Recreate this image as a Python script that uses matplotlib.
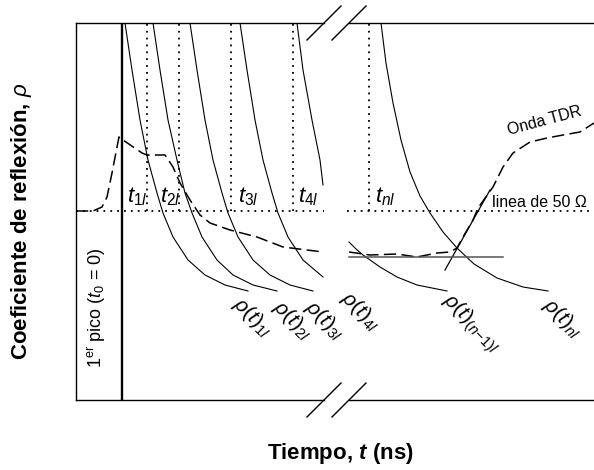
import numpy as np
import matplotlib
matplotlib.use('Agg')
import matplotlib.pyplot as plt

plt.rcParams['font.family'] = ['Liberation Sans', 'DejaVu Sans']
plt.rcParams['mathtext.fontset'] = 'custom'
plt.rcParams['mathtext.rm'] = 'Liberation Sans'
plt.rcParams['mathtext.it'] = 'Liberation Sans:italic'
plt.rcParams['mathtext.bf'] = 'Liberation Sans:bold'
try:
    plt.rcParams['mathtext.bfit'] = 'Liberation Sans:bold:italic'
except KeyError:
    pass

# --- data (arbitrary units, t0 = 0 at the first peak, rho = 0 on the 50 ohm line) ---
rho_y = [188, 141, 91, 51, 18, -2, -26, -49, -64, -74, -80]
rho1_t = [3, 10, 18, 26, 35, 41, 51, 66, 83, 103, 126]
rho2_t = [31, 38, 46, 55, 63, 70, 80, 95, 111, 131, 155]
rho3_t = [68, 75, 83, 91, 100, 106, 116, 131, 148, 168, 191]
rho4_t = [118, 125, 133, 141, 150, 156, 166, 181, 201]
rho4_y = [188, 141, 91, 51, 18, -2, -26, -49, -66]
rho5_t = [175, 181, 190, 198, 201]
rho5_y = [188, 141, 91, 51, 26]
rhon1_t = [227, 234, 241, 258, 275, 295, 325]
rhon1_y = [-31, -38, -44, -56, -66, -74, -80]
rhon_t = [259, 264, 271, 279, 288, 298, 308, 321, 335, 352, 375, 401, 426]
rhon_y = [188, 148, 108, 71, 39, 15, -2, -21, -37, -53, -67, -76, -80]

# TDR wave, before and after the axis break
tdr_a_t = [-46, -29, -20, -15, -10, -5, -3, 1, 20, 25, 43, 51, 58, 68, 78, 88, 108, 135, 161, 185, 201]
tdr_a_y = [0, 0, 4, 14, 38, 64, 74, 71, 58, 56, 56, 44, 28, 11, -4, -12, -19, -26, -36, -39, -41]
tdr_b_t = [227, 248, 275, 295, 315, 328, 335, 341, 351, 356, 371, 381, 391, 408, 425, 441, 458, 472]
tdr_b_y = [-41, -44, -43, -46, -42, -41, -37, -26, -9, 3, 24, 44, 58, 69, 73, 76, 79, 88]

# tangent on the rising edge and level of the last reflection
tangent_t = [323, 368]
tangent_y = [-59, 21]
level_t = [227, 381]
level_y = [-46, -46]

t_marks = [25, 57, 109, 171, 247]
t_labels = [r'$t_{1l}$', r'$t_{2l}$', r'$t_{3l}$', r'$t_{4l}$', r'$t_{nl}$']
t_label_x = [5, 38, 116, 176, 253]

rho_labels = [r'$\rho(t)_{1l}$', r'$\rho(t)_{2l}$', r'$\rho(t)_{3l}$', r'$\rho(t)_{4l}$',
              r'$\rho(t)_{(n\!-\!1)l}$', r'$\rho(t)_{nl}$']
rho_label_x = [130, 170, 202, 238, 349, 440]
rho_label_y = [-106, -109, -109, -100, -113, -107]

xmin, xmax = -46, 472
ymin, ymax = -189, 188
brk = [202, 227]

fig = plt.figure(figsize=(5.94, 4.70), dpi=100)
ax = fig.add_axes([76 / 594, 70 / 470, 518 / 594, 377 / 470])
ax.set_xlim(xmin, xmax)
ax.set_ylim(ymin, ymax)
ax.set_xticks([])
ax.set_yticks([])
for s in ['top', 'bottom', 'right']:
    ax.spines[s].set_visible(False)
ax.spines['left'].set_linewidth(1.0)

# broken top / bottom frame
for yy in (ymin, ymax):
    ax.plot([xmin, brk[0]], [yy, yy], color='k', lw=1.0, clip_on=False)
    ax.plot([brk[1], xmax], [yy, yy], color='k', lw=1.0, clip_on=False)
    for bx in brk:
        ax.plot([bx - 17, bx + 17], [yy - 17, yy + 17], color='k', lw=1.0, clip_on=False)

# first peak
ax.axvline(0, color='k', lw=1.7)

# 50 ohm line and t marks
dots = (0, (1, 2.8))
ax.plot([xmin, brk[0]], [0, 0], color='k', lw=1.3, ls=dots)
ax.plot([brk[1] - 2, xmax], [0, 0], color='k', lw=1.3, ls=dots)
for tm in t_marks:
    ax.plot([tm, tm], [0, ymax], color='k', lw=1.3, ls=dots)
for lab, lx in zip(t_labels, t_label_x):
    ax.text(lx, 9, lab, fontsize=16, ha='left', va='baseline')

# rho(t) curves
ax.plot(rho1_t, rho_y, color='k', lw=0.8)
ax.plot(rho2_t, rho_y, color='k', lw=0.8)
ax.plot(rho3_t, rho_y, color='k', lw=0.8)
ax.plot(rho4_t, rho4_y, color='k', lw=0.8)
ax.plot(rho5_t, rho5_y, color='k', lw=0.8)
ax.plot(rhon1_t, rhon1_y, color='k', lw=0.8)
ax.plot(rhon_t, rhon_y, color='k', lw=0.8)

# TDR wave
ax.plot(tdr_a_t, tdr_a_y, color='k', lw=1.1, ls=(0, (8, 3.5)))
ax.plot(tdr_b_t, tdr_b_y, color='k', lw=1.1, ls=(0, (8, 3.5)))
ax.plot(tangent_t, tangent_y, color='k', lw=0.9)
ax.plot(level_t, level_y, color='#555555', lw=1.1)

for lab, lx, ly in zip(rho_labels, rho_label_x, rho_label_y):
    ax.text(lx, ly, lab, fontsize=15, rotation=-45, rotation_mode='anchor',
            ha='center', va='center')

ax.text(370, 4, 'linea de 50 Ω', fontsize=11.5, ha='left', va='baseline')
ax.text(423, 90, 'Onda TDR', fontsize=11.5, rotation=15, rotation_mode='anchor',
        ha='center', va='center')
ax.text(-25, -97, r'$1^{\mathrm{er}}$ pico ($t_0$ = 0)', fontsize=13, rotation=90,
        ha='center', va='center')

fig.text(22 / 594, 1 - 221 / 470, r'Coeficiente de reflexión, $\rho$', fontsize=16,
         fontweight='bold', rotation=90, ha='center', va='center')
fig.text(340 / 594, 1 - 453 / 470, r'Tiempo, $\mathbfit{t}$ (ns)', fontsize=16,
         fontweight='bold', ha='center', va='center')

fig.savefig('out.png', dpi=100)
